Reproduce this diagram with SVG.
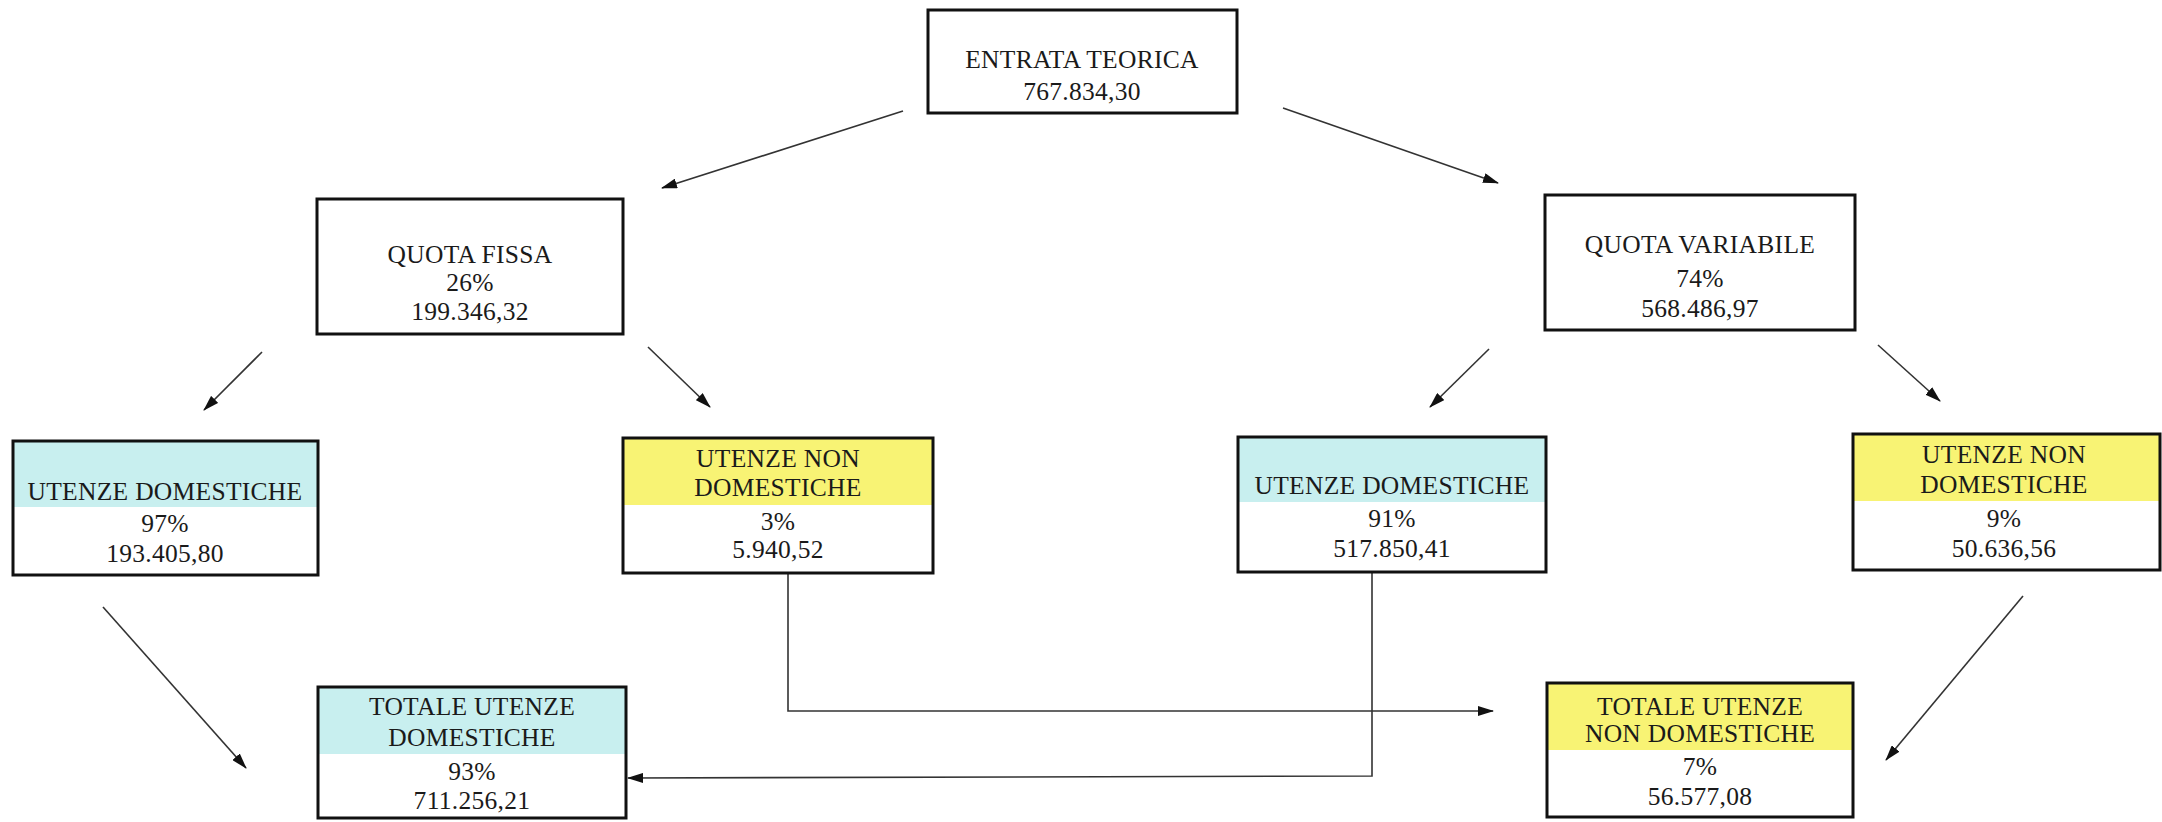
<svg xmlns="http://www.w3.org/2000/svg" width="2162" height="822" viewBox="0 0 2162 822">
<defs>
<style>
.box{fill:none;stroke:#111;stroke-width:3}
.t{font-family:"Liberation Serif","Times New Roman",serif;font-size:25.5px;letter-spacing:0.3px;fill:#1a1a1a;text-anchor:middle}
.c{fill:none;stroke:#333;stroke-width:1.6}
.cy{fill:#c8efef}
.ye{fill:#f8f374}
</style>
<marker id="ah" viewBox="0 0 16 10" refX="15" refY="5" markerWidth="16" markerHeight="10" markerUnits="userSpaceOnUse" orient="auto">
<path d="M0,0 L16,5 L0,10 z" fill="#111"/>
</marker>
</defs>
<rect width="2162" height="822" fill="#fff"/>
<g id="connectors">
<line class="c" x1="903" y1="111" x2="662" y2="188" marker-end="url(#ah)"/>
<line class="c" x1="1283" y1="108" x2="1498" y2="183" marker-end="url(#ah)"/>
<line class="c" x1="262" y1="352" x2="204" y2="410" marker-end="url(#ah)"/>
<line class="c" x1="648" y1="347" x2="710" y2="407" marker-end="url(#ah)"/>
<line class="c" x1="1489" y1="349" x2="1430" y2="407" marker-end="url(#ah)"/>
<line class="c" x1="1878" y1="345" x2="1940" y2="401" marker-end="url(#ah)"/>
<line class="c" x1="103" y1="607" x2="246" y2="768" marker-end="url(#ah)"/>
<polyline class="c" points="788,574 788,711 1493,711" marker-end="url(#ah)"/>
<polyline class="c" points="1372,572 1372,776 628,778" marker-end="url(#ah)"/>
<line class="c" x1="2023" y1="596" x2="1886" y2="760" marker-end="url(#ah)"/>
</g>
<g id="entrata">
<rect class="box" x="928" y="10" width="309" height="103" fill="#fff"/>
<text class="t" x="1082" y="68">ENTRATA TEORICA</text>
<text class="t" x="1082" y="100">767.834,30</text>
</g>
<g id="quota-fissa">
<rect class="box" x="317" y="199" width="306" height="135"/>
<text class="t" x="470" y="263">QUOTA FISSA</text>
<text class="t" x="470" y="291">26%</text>
<text class="t" x="470" y="320">199.346,32</text>
</g>
<g id="quota-variabile">
<rect class="box" x="1545" y="195" width="310" height="135"/>
<text class="t" x="1700" y="253">QUOTA VARIABILE</text>
<text class="t" x="1700" y="287">74%</text>
<text class="t" x="1700" y="317">568.486,97</text>
</g>
<g id="ud-fissa">
<rect class="cy" x="13" y="441" width="305" height="66"/>
<rect class="box" x="13" y="441" width="305" height="134"/>
<text class="t" x="165" y="500">UTENZE DOMESTICHE</text>
<text class="t" x="165" y="532">97%</text>
<text class="t" x="165" y="562">193.405,80</text>
</g>
<g id="und-fissa">
<rect class="ye" x="623" y="438" width="310" height="67"/>
<rect class="box" x="623" y="438" width="310" height="135"/>
<text class="t" x="778" y="467">UTENZE NON</text>
<text class="t" x="778" y="496">DOMESTICHE</text>
<text class="t" x="778" y="530">3%</text>
<text class="t" x="778" y="558">5.940,52</text>
</g>
<g id="ud-variabile">
<rect class="cy" x="1238" y="437" width="308" height="65"/>
<rect class="box" x="1238" y="437" width="308" height="135"/>
<text class="t" x="1392" y="494">UTENZE DOMESTICHE</text>
<text class="t" x="1392" y="527">91%</text>
<text class="t" x="1392" y="557">517.850,41</text>
</g>
<g id="und-variabile">
<rect class="ye" x="1853" y="434" width="307" height="67"/>
<rect class="box" x="1853" y="434" width="307" height="136"/>
<text class="t" x="2004" y="463">UTENZE NON</text>
<text class="t" x="2004" y="493">DOMESTICHE</text>
<text class="t" x="2004" y="527">9%</text>
<text class="t" x="2004" y="557">50.636,56</text>
</g>
<g id="totale-ud">
<rect class="cy" x="318" y="687" width="308" height="67"/>
<rect class="box" x="318" y="687" width="308" height="131"/>
<text class="t" x="472" y="715">TOTALE UTENZE</text>
<text class="t" x="472" y="746">DOMESTICHE</text>
<text class="t" x="472" y="780">93%</text>
<text class="t" x="472" y="809">711.256,21</text>
</g>
<g id="totale-und">
<rect class="ye" x="1547" y="683" width="306" height="67"/>
<rect class="box" x="1547" y="683" width="306" height="134"/>
<text class="t" x="1700" y="715">TOTALE UTENZE</text>
<text class="t" x="1700" y="742">NON DOMESTICHE</text>
<text class="t" x="1700" y="775">7%</text>
<text class="t" x="1700" y="805">56.577,08</text>
</g>
</svg>
